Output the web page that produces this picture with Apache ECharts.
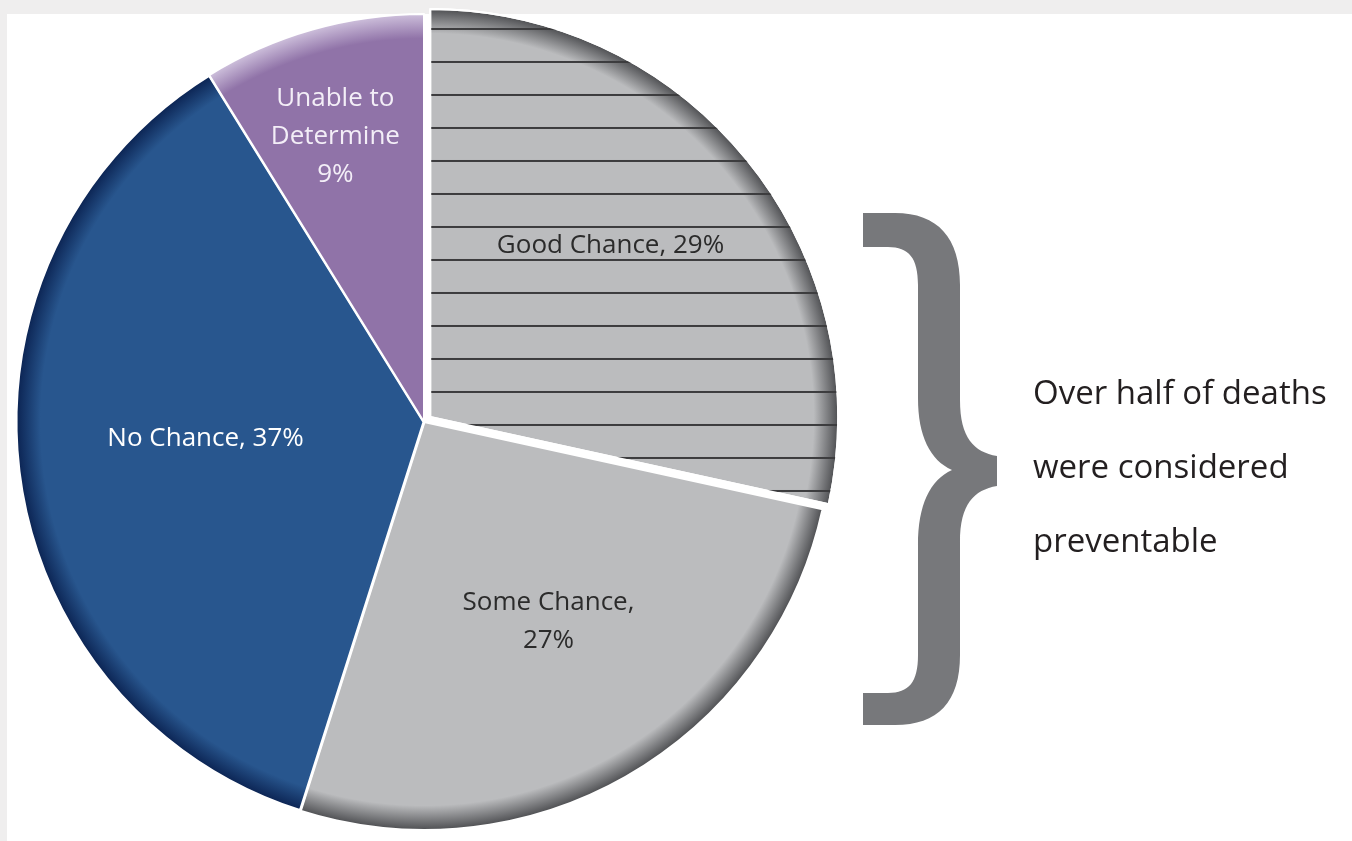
<!DOCTYPE html>
<html>
<head>
<meta charset="utf-8">
<script src="https://cdn.jsdelivr.net/npm/echarts@6/dist/echarts.min.js"></script>
<style>
  html, body { margin: 0; padding: 0; background: #efeeee; }
  #chart { width: 1352px; height: 841px; }
</style>
</head>
<body>
<div id="chart"></div>
<script>
// slices, clockwise from 12 o'clock
var categories = ['Good Chance', 'Some Chance', 'No Chance', 'Unable to\nDetermine'];
var values = [29, 27, 37, 9];
var labelSep = [', ', ',\n', ', ', '\n'];
var noteLines = ['Over half of deaths', 'were considered', 'preventable'];

var baseColors = ['#bbbcbe', '#bbbcbe', '#28568e', '#9073a8'];
var rimColors = ['#4e4f52', '#4e4f52', '#0b2352', '#cdbfdb'];
var textColors = ['#2b2b2b', '#2b2b2b', '#ffffff', '#f3eef7'];
// nudges from the default inside position
var labelShift = [[19, -42], [21, 20], [-13, -9], [-32, -86]];

var cx = 424, cy = 422, R = 408;

function rim(i) {
  return {
    type: 'radial', x: cx, y: cy, r: R, global: true,
    colorStops: [
      { offset: 0, color: baseColors[i] },
      { offset: 0.94, color: baseColors[i] },
      { offset: 1, color: rimColors[i] }
    ]
  };
}

var pieData = categories.map(function (name, i) {
  var item = {
    name: name,
    value: values[i],
    itemStyle: { color: rim(i) },
    label: { color: textColors[i] }
  };
  if (i === 0) {
    item.selected = true;
    item.itemStyle.decal = {
      symbol: 'rect',
      symbolSize: 1,
      dashArrayX: [1, 0],
      dashArrayY: [2, 31],
      rotation: 0,
      color: '#3c3c3e'
    };
  }
  if (i === 2) {
    item.itemStyle.borderWidth = 3;
  }
  return item;
});

// curly brace on the right
var bracePath = 'M863 213 L895 213 C938 213 960 238 960 285 L960 400 ' +
  'C960 438 974 452 997 456 L997 486 C974 490 960 504 960 542 L960 655 ' +
  'C960 702 938 725 895 725 L863 725 L863 693 L888 693 C909 693 918 682 918 655 ' +
  'L918 545 C918 505 930 480 952 470 C930 460 918 436 918 398 L918 285 ' +
  'C918 258 909 247 888 247 L863 247 Z';

var chart = echarts.init(document.getElementById('chart'));
var option = {
  backgroundColor: '#efeeee',
  animation: false,
  graphic: [
    {
      type: 'rect', z: -10,
      shape: { x: 7, y: 14, width: 1345, height: 827 },
      style: { fill: '#ffffff' }
    },
    {
      type: 'text', left: 1033, top: 358,
      style: {
        text: noteLines.join('\n'),
        font: '33px "Open Sans", sans-serif',
        lineHeight: 74,
        fill: '#231f20'
      }
    }
  ],
  series: [
    {
      type: 'pie',
      center: [cx, cy],
      radius: [0, R],
      startAngle: 90,
      clockwise: true,
      selectedMode: 'multiple',
      selectedOffset: 8,
      itemStyle: { borderColor: '#ffffff', borderWidth: 2 },
      emphasis: { disabled: true },
      label: {
        show: true,
        position: 'inside',
        fontFamily: 'Open Sans',
        fontSize: 26,
        lineHeight: 38,
        align: 'center',
        formatter: function (p) {
          return p.name + labelSep[p.dataIndex] + p.value + '%';
        }
      },
      labelLine: { show: false },
      labelLayout: function (p) {
        return { dx: labelShift[p.dataIndex][0], dy: labelShift[p.dataIndex][1] };
      },
      data: pieData
    },
    {
      type: 'custom',
      coordinateSystem: 'none',
      silent: true,
      data: [0],
      renderItem: function () {
        return {
          type: 'path',
          shape: { pathData: bracePath, layout: 'cover', x: 863, y: 213, width: 134, height: 512 },
          style: { fill: '#77787b' }
        };
      }
    }
  ]
};
chart.setOption(option);
</script>
</body>
</html>
